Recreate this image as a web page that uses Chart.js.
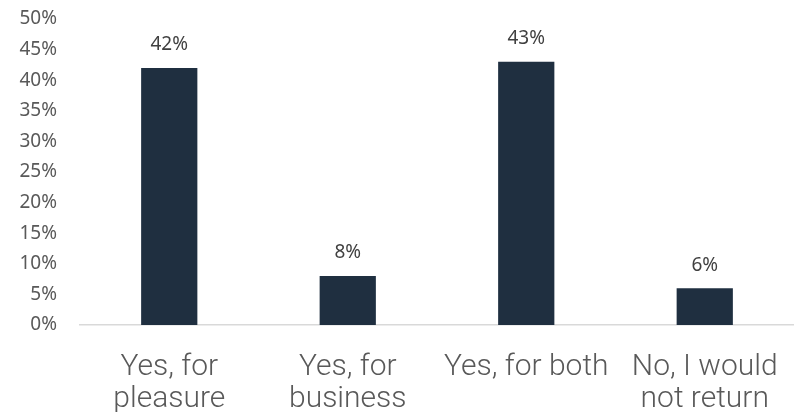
<!DOCTYPE html>
<html><head><meta charset="utf-8">
<script src="https://cdn.jsdelivr.net/npm/chart.js@4"></script>
<style>html,body{margin:0;padding:0;background:#fff}#wrap{width:794px;height:412px}</style>
</head><body><div id="wrap"><canvas id="c" width="794" height="412"></canvas></div>
<script>
const categories = [["Yes, for","pleasure"],["Yes, for","business"],["Yes, for both"],["No, I would","not return"]];
const values = [42, 8, 43, 6];
const yTicks = [0,5,10,15,20,25,30,35,40,45,50];

const labelPlugin = {
  id: 'vlabels',
  afterDatasetsDraw(chart) {
    const ctx = chart.ctx;
    const meta = chart.getDatasetMeta(0);
    ctx.save();
    ctx.font = '19px "Noto Sans"';
    ctx.fillStyle = '#404040';
    ctx.textAlign = 'center';
    ctx.textBaseline = 'middle';
    meta.data.forEach((bar, i) => {
      ctx.fillText(values[i] + '%', bar.x, bar.y - 23);
    });
    ctx.restore();
  }
};

new Chart(document.getElementById('c'), {
  type: 'bar',
  data: { labels: categories, datasets: [{ data: values, backgroundColor: '#1f2f40', categoryPercentage: 1, barPercentage: 0.315 }] },
  options: {
    responsive: false, animation: false,
    layout: { padding: { top: 19, right: 0, left: 0, bottom: 0 } },
    plugins: { legend: { display: false }, tooltip: { enabled: false } },
    scales: {
      x: {
        grid: { display: false, drawTicks: false },
        border: { color: '#d9d9d9', width: 1.5 },
        ticks: { color: '#595959', font: { family: 'Roboto', weight: 300, size: 30, lineHeight: 1.07 }, padding: 26, maxRotation: 0, autoSkip: false },
        afterFit(s) { s.height = 87; s.paddingLeft = 0; s.paddingRight = 0; s.paddingTop = 0; s.paddingBottom = 0; }
      },
      y: {
        min: 0, max: 50,
        afterBuildTicks(s) { s.ticks = yTicks.map(v => ({ value: v })); },
        grid: { display: false, drawTicks: false },
        border: { display: false },
        ticks: { color: '#595959', font: { family: 'Noto Sans', size: 19 }, padding: 23, callback: v => v + '%' },
        afterFit(s) { s.width = 80; s.paddingTop = 0; s.paddingBottom = 0; }
      }
    }
  },
  plugins: [labelPlugin]
});
</script></body></html>
